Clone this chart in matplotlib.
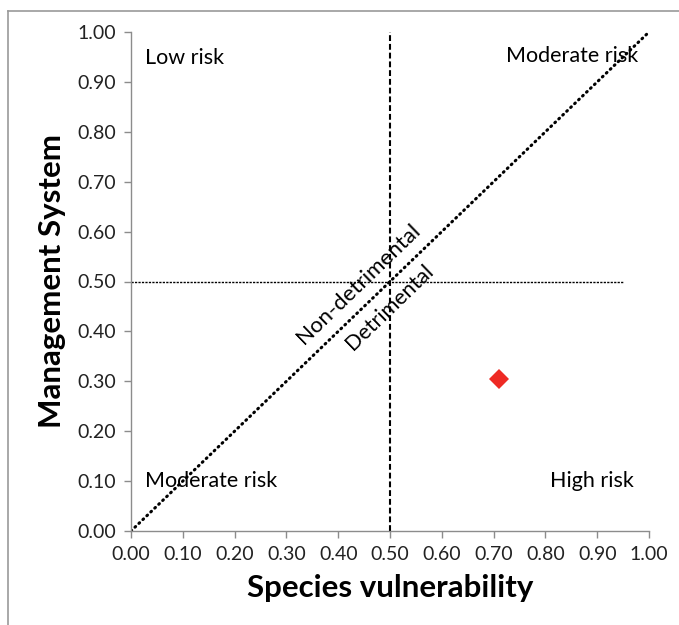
import matplotlib
matplotlib.use('Agg')
import matplotlib.pyplot as plt
from matplotlib.lines import Line2D
import numpy as np

plt.rcParams['font.family'] = ['Lato', 'DejaVu Sans']

# data
species_x = [0.71]
management_y = [0.305]
ticks = np.round(np.arange(0, 1.01, 0.1), 2)
tick_labels = ["%.2f" % t for t in ticks]
corner_labels = ["Low risk", "Moderate risk", "Moderate risk", "High risk"]

fig = plt.figure(figsize=(6.79, 6.25), dpi=100)
ax = fig.add_axes([131 / 679, 1 - 531 / 625, 518 / 679, 499 / 625])

# light frame round the figure (left and top edges only)
fig.add_artist(Line2D([8 / 679, 8 / 679], [0, 1 - 11 / 625], transform=fig.transFigure,
                      color='#9a9a9a', lw=1.2))
fig.add_artist(Line2D([8 / 679, 1], [1 - 11 / 625, 1 - 11 / 625], transform=fig.transFigure,
                      color='#9a9a9a', lw=1.2))

# reference lines
ax.plot([0, 1], [0, 1], color='black', lw=2.2, linestyle=(0, (0.3, 1.5)),
        dash_capstyle='round')
ax.plot([0, 0.95], [0.5, 0.5], color='black', lw=1.0, linestyle=(0, (1.6, 0.9)))
ax.plot([0.5, 0.5], [0, 1], color='black', lw=1.5, linestyle=(0, (2.8, 1.4)))

ax.plot(species_x, management_y, 'D', color='#ee2a24', markersize=10, markeredgewidth=0)

ax.set_xlim(0, 1)
ax.set_ylim(0, 1)
ax.set_xticks(ticks)
ax.set_xticklabels(tick_labels)
ax.set_yticks(ticks)
ax.set_yticklabels(tick_labels)
ax.tick_params(direction='out', length=5, width=1, color='#8c8c8c', labelsize=14,
               labelcolor='#222222', pad=6)
for s in ['top', 'right']:
    ax.spines[s].set_visible(False)
for s in ['left', 'bottom']:
    ax.spines[s].set_color('#8c8c8c')
    ax.spines[s].set_linewidth(1)

ax.set_xlabel("Species vulnerability", fontsize=22.5, fontweight='bold', labelpad=8)
ax.set_ylabel("Management System", fontsize=22.5, fontweight='bold', labelpad=8)

ax.text(0.027, 0.948, corner_labels[0], fontsize=15.5, va='center', ha='left')
ax.text(0.979, 0.952, corner_labels[1], fontsize=15.5, va='center', ha='right')
ax.text(0.027, 0.10, corner_labels[2], fontsize=15.5, va='center', ha='left')
ax.text(0.971, 0.10, corner_labels[3], fontsize=15.5, va='center', ha='right')

ax.text(0.440, 0.494, "Non-detrimental", fontsize=16, rotation=44, ha='center', va='center',
        rotation_mode='anchor')
ax.text(0.500, 0.449, "Detrimental", fontsize=15.5, rotation=44, ha='center', va='center',
        rotation_mode='anchor')

fig.savefig('out.png', dpi=100)
